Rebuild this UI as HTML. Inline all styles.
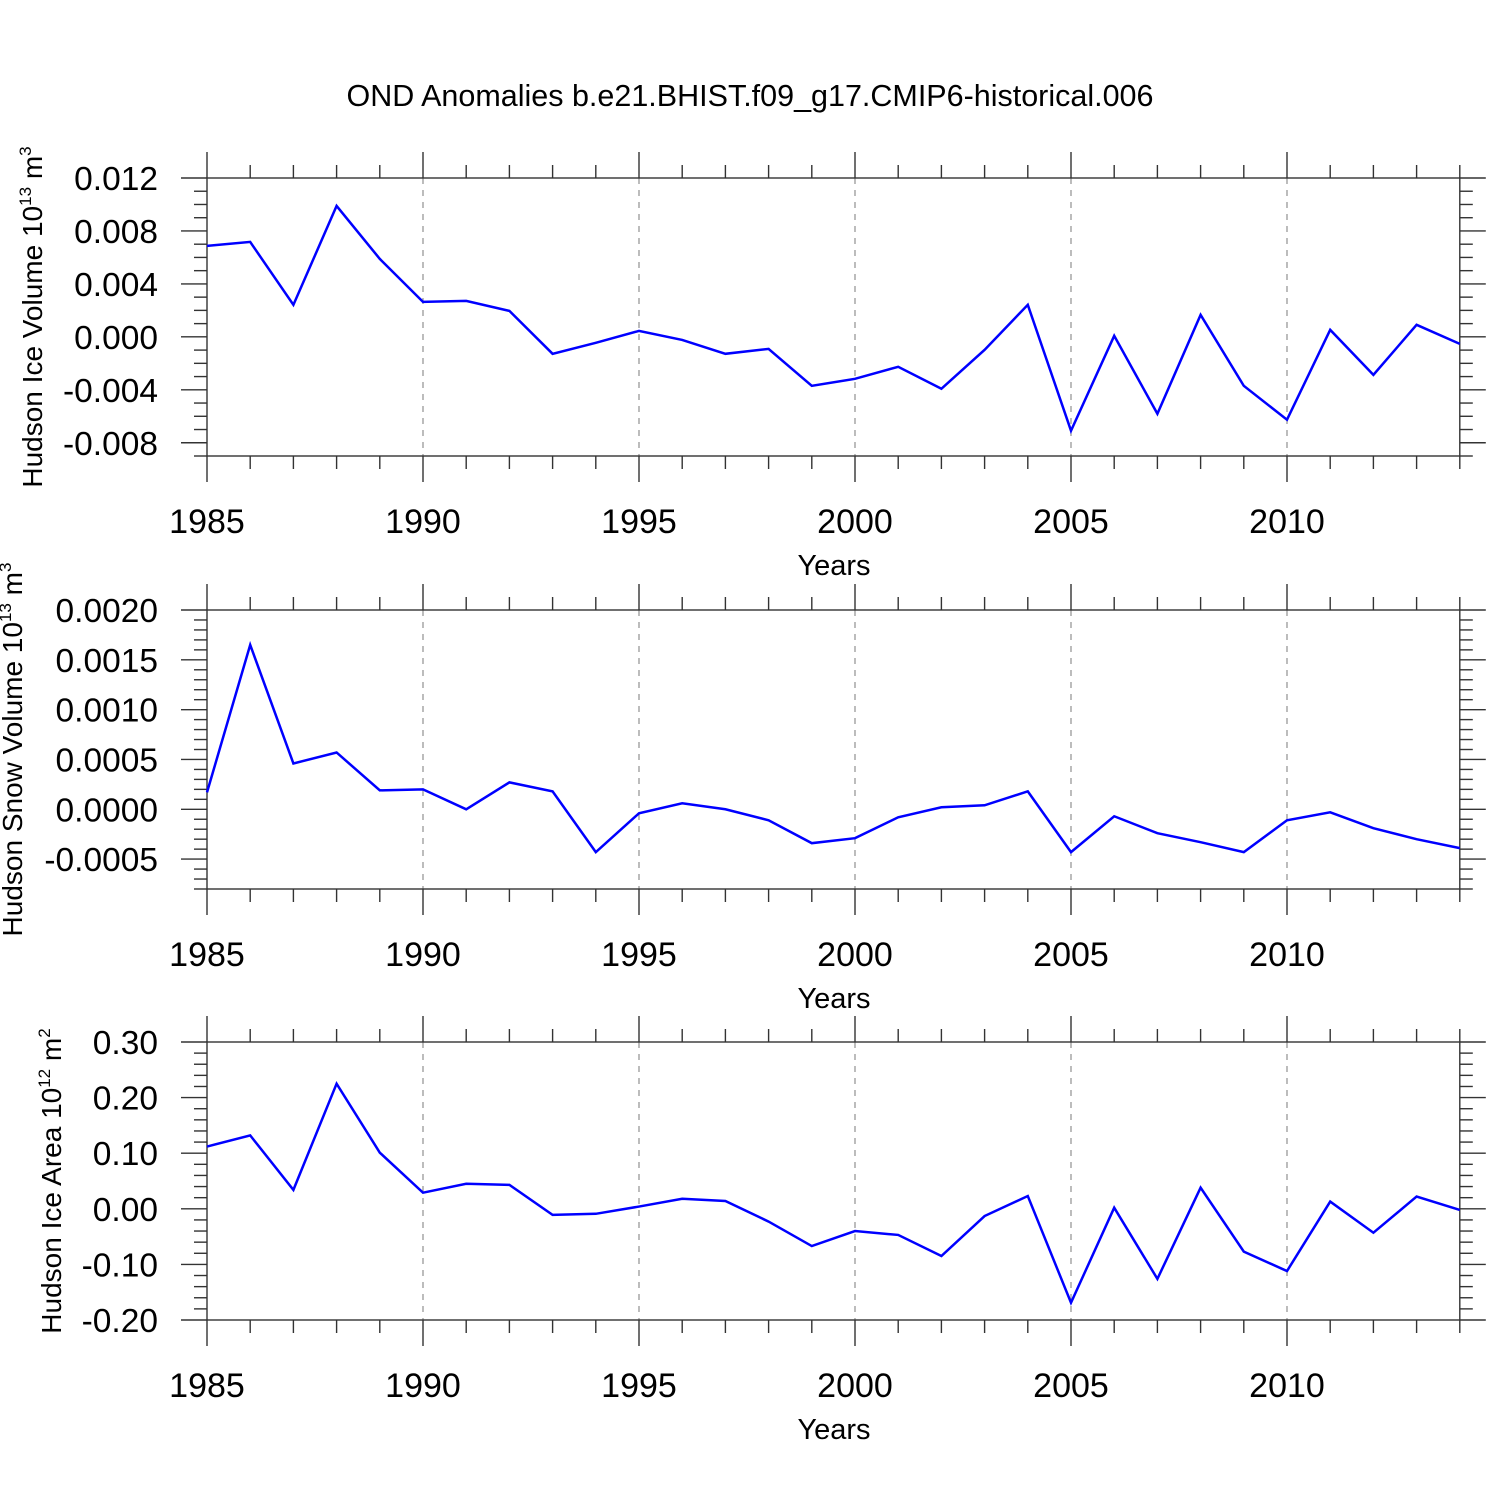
<!DOCTYPE html>
<html><head><meta charset="utf-8"><style>
html,body{margin:0;padding:0;background:#fff}
svg{display:block;font-family:"Liberation Sans",sans-serif}
</style></head><body>
<svg id="chart" width="1500" height="1500" xmlns="http://www.w3.org/2000/svg">
<text x="750" y="106" text-anchor="middle" font-size="30.5">OND Anomalies b.e21.BHIST.f09_g17.CMIP6-historical.006</text>
</svg>
<script>
const years=[1985,1986,1987,1988,1989,1990,1991,1992,1993,1994,1995,1996,1997,1998,1999,2000,2001,2002,2003,2004,2005,2006,2007,2008,2009,2010,2011,2012,2013,2014];
const xTickLabels=[1985,1990,1995,2000,2005,2010];
const iceVolume=[0.00687,0.00717,0.00242,0.00989,0.00589,0.00264,0.00272,0.00196,-0.00128,-0.00045,0.00045,-0.00023,-0.00128,-0.00091,-0.0037,-0.00317,-0.00226,-0.00392,-0.00098,0.00242,-0.00709,0.00008,-0.00581,0.00166,-0.0037,-0.00626,0.00053,-0.00287,0.00091,-0.00053];
const snowVolume=[0.00017,0.00165,0.00046,0.00057,0.00019,0.0002,0,0.00027,0.00018,-0.00043,-0.00004,0.00006,0,-0.00011,-0.00034,-0.00029,-0.00008,0.00002,0.00004,0.00018,-0.00043,-0.00007,-0.00024,-0.00033,-0.00043,-0.00011,-0.00003,-0.00019,-0.0003,-0.00039];
const iceArea=[0.112,0.132,0.034,0.225,0.101,0.029,0.045,0.043,-0.011,-0.009,0.004,0.018,0.014,-0.023,-0.067,-0.04,-0.047,-0.085,-0.013,0.023,-0.169,0.002,-0.126,0.038,-0.077,-0.112,0.013,-0.043,0.022,-0.002];
const ticks1=[0.012,0.008,0.004,0,-0.004,-0.008];
const labels1=["0.012","0.008","0.004","0.000","-0.004","-0.008"];
const ticks2=[0.002,0.0015,0.001,0.0005,0,-0.0005];
const labels2=["0.0020","0.0015","0.0010","0.0005","0.0000","-0.0005"];
const ticks3=[0.3,0.2,0.1,0,-0.1,-0.2];
const labels3=["0.30","0.20","0.10","0.00","-0.10","-0.20"];

const NS="http://www.w3.org/2000/svg";
const svg=document.getElementById('chart');
const X0=207,X1=1459.8;
const xs=y=>X0+(y-1985)*(X1-X0)/29;
function mk(tag,attrs,parent){const e=document.createElementNS(NS,tag);for(const k in attrs)e.setAttribute(k,attrs[k]);(parent||svg).appendChild(e);return e;}

function panel(cfg,idx){
  const g=mk('g',{});
  
  
  const {top,bot,vTop,vBot,ticks,labels,minor,data,title,sup,tx}=cfg;
  const ys=v=>top+(vTop-v)*(bot-top)/(vTop-vBot);
  for(const y of [1990,1995,2000,2005,2010]){
    const l=mk('line',{x1:xs(y),x2:xs(y),y1:top,y2:bot,stroke:'#999','stroke-width':1.3,'stroke-dasharray':'6,6'},g);
    
    
  }
  const st={stroke:'#333','stroke-width':1.4};
  for(const y of years){
    const maj=(y%5===0);const len=maj?26:13;
    mk('line',Object.assign({x1:xs(y),x2:xs(y),y1:top-len,y2:top},st),g);
    mk('line',Object.assign({x1:xs(y),x2:xs(y),y1:bot,y2:bot+len},st),g);
  }
  for(const y of xTickLabels){
    const t=mk('text',{x:xs(y),y:bot+77,'text-anchor':'middle','font-size':34},g);
    t.textContent=y;
    
    
  }
  const xt=mk('text',{x:834,y:bot+119,'text-anchor':'middle','font-size':29},g);
  xt.textContent='Years';
  
  
  const step=ticks[0]-ticks[1];
  const ms=step/minor;
  const n=Math.round((vTop-vBot)/ms+1e-6);
  for(let k=0;k<=n;k++){
    const v=vTop-k*ms;
    const y=ys(v);
    const isMaj=ticks.some(t=>Math.abs(t-v)<ms*0.1);
    const len=isMaj?26:13;
    mk('line',Object.assign({x1:X0-len,x2:X0,y1:y,y2:y},st),g);
    mk('line',Object.assign({x1:X1,x2:X1+len,y1:y,y2:y},st),g);
  }
  ticks.forEach((v,i)=>{
    const t=mk('text',{x:158,y:ys(v)+12,'text-anchor':'end','font-size':33.5},g);
    t.textContent=labels[i];
    
    
  });
  const b=mk('rect',{x:X0,y:top,width:X1-X0,height:bot-top,fill:'none',stroke:'#333','stroke-width':1.4},g);
  
  
  const p=mk('polyline',{points:data.map((v,i)=>xs(years[i])+','+ys(v)).join(' '),fill:'none',stroke:'#0000ff','stroke-width':2.5,'stroke-linejoin':'miter'},g);
  
  
  const cy=(top+bot)/2;
  const t=mk('text',{x:0,y:0,'text-anchor':'middle','font-size':28,transform:`translate(${tx},${cy}) rotate(-90)`},g);
  
  
  t.appendChild(document.createTextNode(title+' 10'));
  const s1=mk('tspan',{dy:-11,'font-size':17},t);s1.textContent=sup[0];
  const s2=mk('tspan',{dy:11},t);s2.textContent=' m';
  const s3=mk('tspan',{dy:-11,'font-size':17},t);s3.textContent=sup[1];
}
panel({top:178,bot:456,vTop:0.012,vBot:-0.009,ticks:ticks1,labels:labels1,minor:4,data:iceVolume,title:'Hudson Ice Volume',sup:['13','3'],tx:42},1);
panel({top:610,bot:889,vTop:0.002,vBot:-0.0008,ticks:ticks2,labels:labels2,minor:5,data:snowVolume,title:'Hudson Snow Volume',sup:['13','3'],tx:22},2);
panel({top:1042,bot:1320,vTop:0.3,vBot:-0.2,ticks:ticks3,labels:labels3,minor:5,data:iceArea,title:'Hudson Ice Area',sup:['12','2'],tx:61},3);
</script>
</body></html>
